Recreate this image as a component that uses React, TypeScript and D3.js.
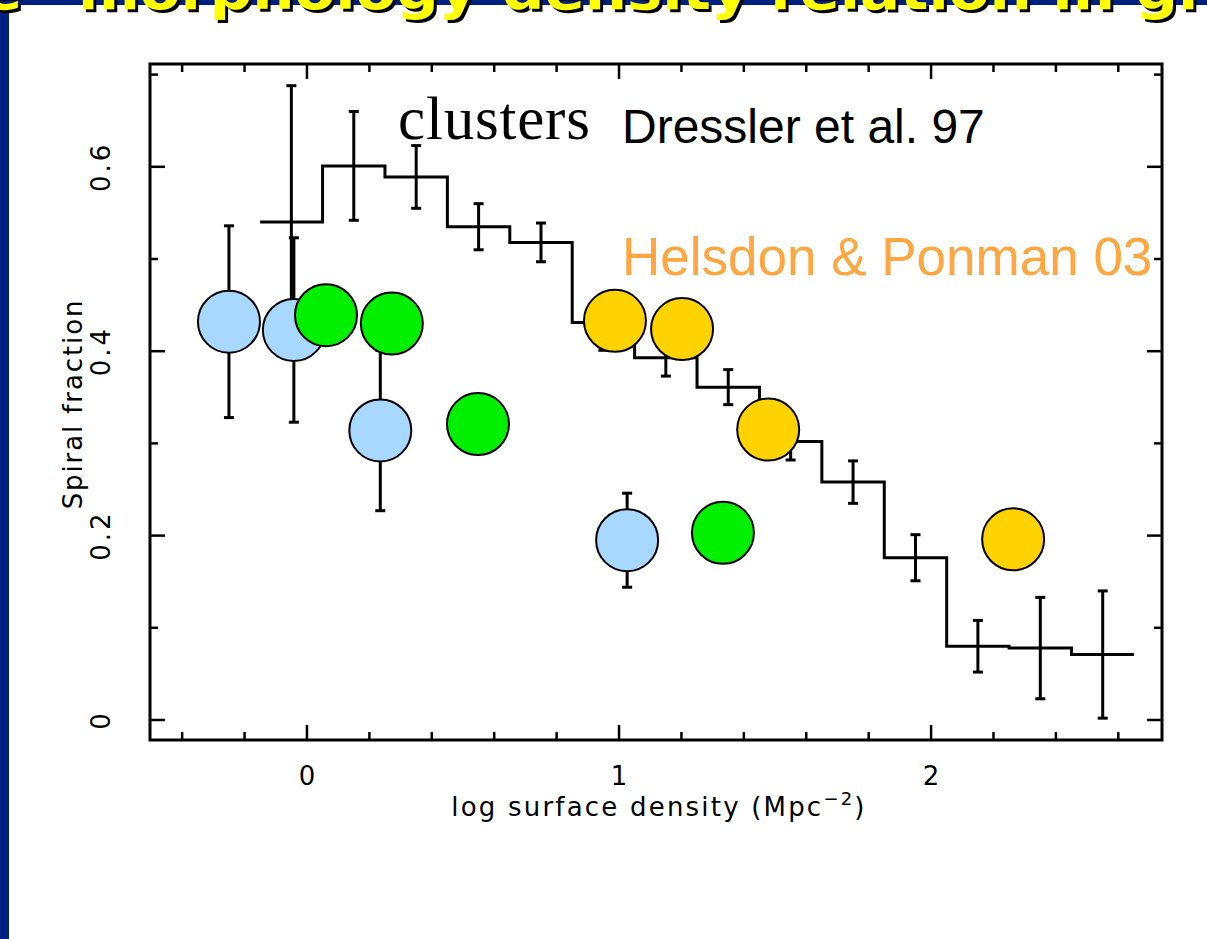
import React from "react";
import * as d3 from "d3";

// Dressler et al. 97 cluster histogram: bin edges in log surface density
const densityBinEdges = [-0.15, 0.05, 0.25, 0.45, 0.65, 0.85, 1.05, 1.25, 1.45, 1.65, 1.85, 2.05, 2.25, 2.45, 2.65];
const dresslerFraction = [0.54, 0.601, 0.589, 0.535, 0.518, 0.431, 0.393, 0.361, 0.302, 0.258, 0.176, 0.08, 0.078, 0.071];
const dresslerError = [0.148, 0.059, 0.034, 0.025, 0.021, 0.03, 0.02, 0.019, 0.02, 0.023, 0.025, 0.028, 0.055, 0.069];

// Group samples (Helsdon & Ponman 03)
const blueDensity = [-0.25, -0.042, 0.235, 1.026];
const blueFraction = [0.432, 0.423, 0.314, 0.195];
const blueError = [0.104, 0.1, 0.087, 0.051];

const greenDensity = [0.061, 0.272, 0.548, 1.333];
const greenFraction = [0.439, 0.43, 0.321, 0.203];

const goldDensity = [0.987, 1.202, 1.478, 2.263];
const goldFraction = [0.433, 0.424, 0.315, 0.196];

// Axis ticks
const xMajorTicks = [0, 1, 2];
const xMinorTicks = [-0.4, -0.2, 0.2, 0.4, 0.6, 0.8, 1.2, 1.4, 1.6, 1.8, 2.2, 2.4, 2.6];
const yMajorTicks = [0, 0.2, 0.4, 0.6];
const yMinorTicks = [0.1, 0.3, 0.5, 0.7];
const yTickLabels = ["0", "0.2", "0.4", "0.6"];

const W = 1207;
const H = 939;
const frame = { left: 150, right: 1162, top: 64, bottom: 740 };

const x = d3.scaleLinear().domain([-0.503, 2.74]).range([frame.left, frame.right]);
const y = d3.scaleLinear().domain([-0.0217, 0.7115]).range([frame.bottom, frame.top]);

const AXIS_FONT = "'DejaVu Sans', 'Liberation Sans', sans-serif";
const MAJOR = 15;
const MINOR = 8;
const R = 31;

export default function App() {
  const stepPoints: [number, number][] = dresslerFraction.map((v, i) => [densityBinEdges[i], v]);
  stepPoints.push([densityBinEdges[densityBinEdges.length - 1], dresslerFraction[dresslerFraction.length - 1]]);
  const stepPath = d3
    .line<[number, number]>()
    .x((d) => x(d[0]))
    .y((d) => y(d[1]))
    .curve(d3.curveStepAfter)(stepPoints) as string;

  const binCenters = dresslerFraction.map((_, i) => (densityBinEdges[i] + densityBinEdges[i + 1]) / 2);

  const errorBar = (cx: number, cy: number, e: number, key: string) => {
    const px = x(cx);
    const top = y(cy + e);
    const bot = y(cy - e);
    return (
      <g key={key}>
        <line x1={px} x2={px} y1={top} y2={bot} />
        <line x1={px - 5} x2={px + 5} y1={top} y2={top} />
        <line x1={px - 5} x2={px + 5} y1={bot} y2={bot} />
      </g>
    );
  };

  const titleLayer = (dx: number, dy: number, fill: string) => (
    <g transform={`translate(${dx},${dy})`} fill={fill} fontFamily="'Comic Sans MS', 'DejaVu Sans', sans-serif" fontWeight="bold" fontSize={54}>
      <text x={22} y={9} textAnchor="end">The</text>
      <text x={78} y={9} textLength={1290} lengthAdjust="spacingAndGlyphs">
        morphology-density relation in groups
      </text>
    </g>
  );

  return (
    <svg
      width={W}
      height={H}
      viewBox={`0 0 ${W} ${H}`}
      style={{ position: "absolute", left: 0, top: 0, display: "block", background: "#ffffff" }}
    >
      <rect x={0} y={0} width={W} height={H} fill="#ffffff" />
      {/* slide border */}
      <rect x={0} y={0} width={W} height={5} fill="#00207f" />
      <rect x={0} y={0} width={9} height={H} fill="#00207f" />
      {titleLayer(3, 3, "#000000")}
      {titleLayer(0, 0, "#ffff00")}

      {/* frame */}
      <rect
        x={frame.left}
        y={frame.top}
        width={frame.right - frame.left}
        height={frame.bottom - frame.top}
        fill="none"
        stroke="#000"
        strokeWidth={3}
      />
      <g stroke="#000" strokeWidth={2.5}>
        {xMajorTicks.map((t) => (
          <g key={`xM${t}`}>
            <line x1={x(t)} x2={x(t)} y1={frame.bottom} y2={frame.bottom - MAJOR} />
            <line x1={x(t)} x2={x(t)} y1={frame.top} y2={frame.top + MAJOR} />
          </g>
        ))}
        {xMinorTicks.map((t) => (
          <g key={`xm${t}`}>
            <line x1={x(t)} x2={x(t)} y1={frame.bottom} y2={frame.bottom - MINOR} />
            <line x1={x(t)} x2={x(t)} y1={frame.top} y2={frame.top + MINOR} />
          </g>
        ))}
        {yMajorTicks.map((t) => (
          <g key={`yM${t}`}>
            <line x1={frame.left} x2={frame.left + MAJOR} y1={y(t)} y2={y(t)} />
            <line x1={frame.right} x2={frame.right - MAJOR} y1={y(t)} y2={y(t)} />
          </g>
        ))}
        {yMinorTicks.map((t) => (
          <g key={`ym${t}`}>
            <line x1={frame.left} x2={frame.left + MINOR} y1={y(t)} y2={y(t)} />
            <line x1={frame.right} x2={frame.right - MINOR} y1={y(t)} y2={y(t)} />
          </g>
        ))}
      </g>

      {/* tick labels */}
      <g fontFamily={AXIS_FONT} fontSize={26} fill="#000">
        {xMajorTicks.map((t) => (
          <text key={`xl${t}`} x={x(t)} y={785} textAnchor="middle">
            {t}
          </text>
        ))}
        {yMajorTicks.map((t, i) => (
          <text
            key={`yl${t}`}
            transform={`translate(${110},${y(t)}) rotate(-90)`}
            textAnchor="middle"
            letterSpacing={3}
          >
            {yTickLabels[i]}
          </text>
        ))}
        <text x={659} y={816} textAnchor="middle" fontSize={26} letterSpacing={2.2}>
          log surface density (Mpc
          <tspan dy={-11} fontSize={18}>−2</tspan>
          <tspan dy={11}>)</tspan>
        </text>
        <text transform={`translate(82,404) rotate(-90)`} textAnchor="middle" fontSize={26} letterSpacing={1.9}>
          Spiral fraction
        </text>
      </g>

      {/* Dressler histogram */}
      <path d={stepPath} fill="none" stroke="#000" strokeWidth={3} />
      <g stroke="#000" strokeWidth={3}>
        {binCenters.map((c, i) => errorBar(c, dresslerFraction[i], dresslerError[i], `d${i}`))}
        {blueDensity.map((c, i) => errorBar(c, blueFraction[i], blueError[i], `b${i}`))}
      </g>

      {/* group samples */}
      <g stroke="#000" strokeWidth={2}>
        {blueDensity.map((c, i) => (
          <circle key={`bc${i}`} cx={x(c)} cy={y(blueFraction[i])} r={R} fill="#a8d8ff" />
        ))}
        {greenDensity.map((c, i) => (
          <circle key={`gc${i}`} cx={x(c)} cy={y(greenFraction[i])} r={R} fill="#00f000" />
        ))}
        {goldDensity.map((c, i) => (
          <circle key={`oc${i}`} cx={x(c)} cy={y(goldFraction[i])} r={R} fill="#ffd300" />
        ))}
      </g>

      {/* annotations */}
      <text x={398} y={139} fontFamily="'Liberation Serif', 'Times New Roman', serif" fontSize={61} fill="#000" textLength={192}>
        clusters
      </text>
      <text x={622} y={143} fontFamily="'Liberation Sans', Arial, sans-serif" fontSize={48} fill="#000">
        Dressler et al. 97
      </text>
      <text x={622} y={275} fontFamily="'Liberation Sans', Arial, sans-serif" fontSize={53} fill="#ffa640">
        Helsdon &amp; Ponman 03
      </text>
    </svg>
  );
}
